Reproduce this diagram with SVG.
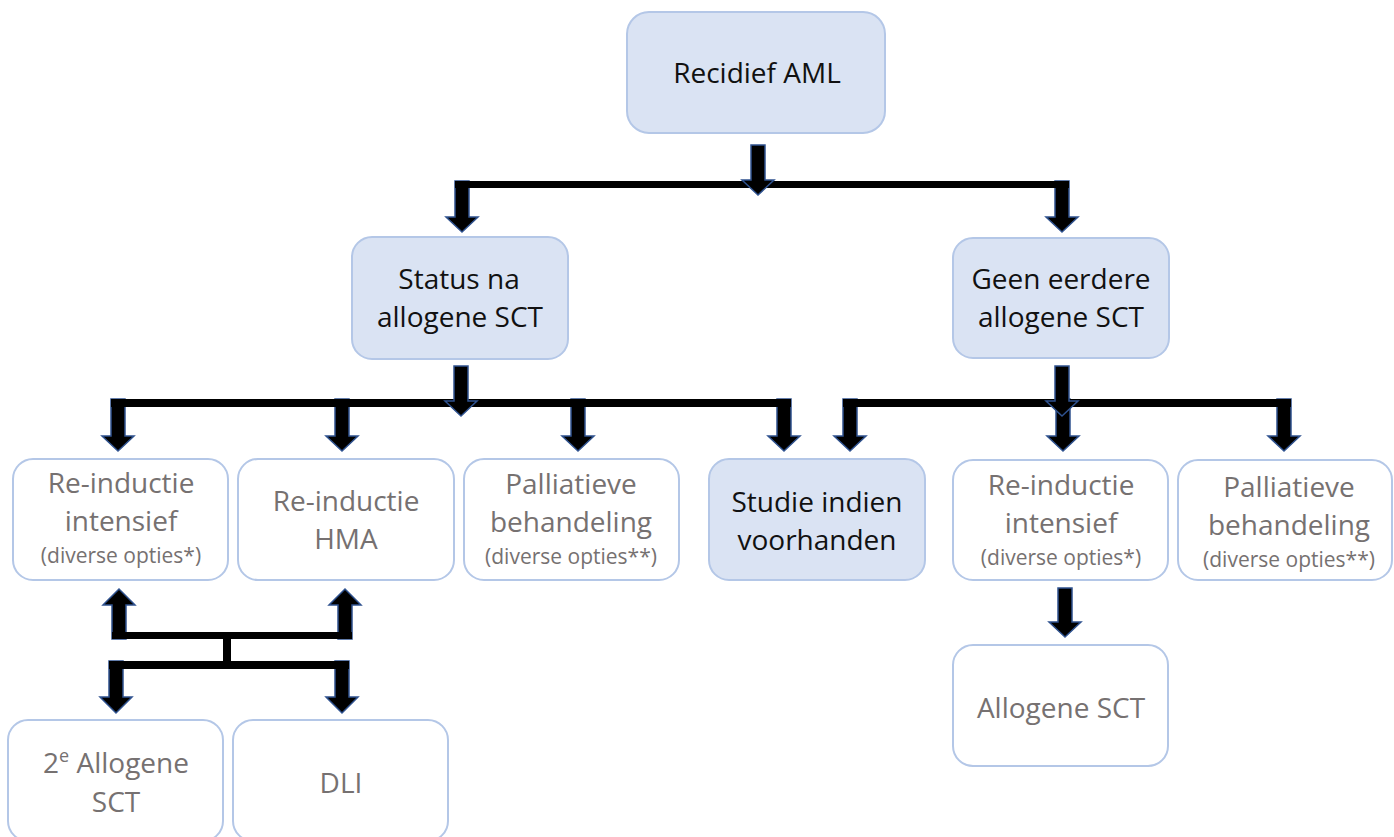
<svg xmlns="http://www.w3.org/2000/svg" width="1394" height="837" viewBox="0 0 1394 837">
  <style>
    .box-blue { fill: #dae3f3; stroke: #b4c7e7; stroke-width: 2; }
    .box-white { fill: #ffffff; stroke: #b4c7e7; stroke-width: 2; }
    .t-dark { font-family: "Open Sans", "Noto Sans", sans-serif; font-size: 28px; fill: #111111; text-anchor: middle; }
    .t-gray { font-family: "Open Sans", "Noto Sans", sans-serif; font-size: 28px; fill: #767171; text-anchor: middle; }
    .t-small { font-family: "Open Sans", "Noto Sans", sans-serif; font-size: 21px; fill: #767171; text-anchor: middle; }
    .arrow { fill: #000000; stroke: #2f528f; stroke-width: 1.5; stroke-linejoin: miter; }
    .bar { fill: #000000; }
  </style>

  <g id="connectors">
    <!-- branch arrows (drawn under the bars) -->
    <path class="arrow" d="M455,181 H469 V217 H478 L462,232 L446,217 H455 Z"/>
    <path class="arrow" d="M1055,181 H1069 V217 H1078 L1062,232 L1046,217 H1055 Z"/>

    <path class="arrow" d="M111,399 H125 V436 H134 L118,451 L102,436 H111 Z"/>
    <path class="arrow" d="M335,399 H349 V436 H358 L342,451 L326,436 H335 Z"/>
    <path class="arrow" d="M571,399 H585 V436 H594 L578,451 L562,436 H571 Z"/>
    <path class="arrow" d="M777,399 H791 V436 H800 L784,451 L768,436 H777 Z"/>

    <path class="arrow" d="M843,399 H857 V436 H866 L850,451 L834,436 H843 Z"/>
    <path class="arrow" d="M1056,399 H1070 V436 H1079 L1063,451 L1047,436 H1056 Z"/>
    <path class="arrow" d="M1277,399 H1291 V436 H1300 L1284,451 L1268,436 H1277 Z"/>

    <!-- horizontal bars -->
    <rect class="bar" x="455" y="181" width="614" height="7"/>
    <rect class="bar" x="111" y="399" width="680" height="8"/>
    <rect class="bar" x="843" y="399" width="448" height="8"/>

    <!-- source arrows (drawn over the bars) -->
    <path class="arrow" d="M751,145 H765 V180 H774 L758,195 L742,180 H751 Z"/>
    <path class="arrow" d="M454,366 H468 V401 H477 L461,416 L445,401 H454 Z"/>
    <path class="arrow" d="M1055,366 H1069 V401 H1078 L1062,416 L1046,401 H1055 Z"/>

    <!-- re-inductie to allogene SCT -->
    <path class="arrow" d="M1058,588 H1072 V622 H1081 L1065,637 L1049,622 H1058 Z"/>

    <!-- re-inductie / HMA to 2e allogene SCT / DLI -->
    <path class="arrow" d="M112,639 V605 H103 L119,589 L135,605 H126 V639 Z"/>
    <path class="arrow" d="M338,639 V605 H329 L345,589 L361,605 H352 V639 Z"/>
    <path class="arrow" d="M109,661 H123 V697 H132 L116,713 L100,697 H109 Z"/>
    <path class="arrow" d="M335,661 H349 V697 H358 L342,713 L326,697 H335 Z"/>
    <rect class="bar" x="112" y="632" width="240" height="7"/>
    <rect class="bar" x="223" y="638" width="8" height="24"/>
    <rect class="bar" x="109" y="661" width="240" height="8"/>
  </g>

  <g id="n-recidief">
    <rect class="box-blue" x="627" y="12" width="258" height="121" rx="22"/>
    <text class="t-dark" x="757" y="83">Recidief AML</text>
  </g>

  <g id="n-status">
    <rect class="box-blue" x="352" y="237" width="216" height="122" rx="20"/>
    <text class="t-dark" x="459" y="289">Status na</text>
    <text class="t-dark" x="460" y="327">allogene SCT</text>
  </g>

  <g id="n-geen">
    <rect class="box-blue" x="953" y="238" width="216" height="120" rx="20"/>
    <text class="t-dark" x="1061" y="289">Geen eerdere</text>
    <text class="t-dark" x="1061" y="327">allogene SCT</text>
  </g>

  <g id="n-reinductie-1">
    <rect class="box-white" x="13" y="459" width="215" height="121" rx="20"/>
    <text class="t-gray" x="121" y="493">Re-inductie</text>
    <text class="t-gray" x="121" y="531">intensief</text>
    <text class="t-small" x="121" y="563">(diverse opties*)</text>
  </g>

  <g id="n-hma">
    <rect class="box-white" x="238" y="459" width="216" height="121" rx="20"/>
    <text class="t-gray" x="346" y="511">Re-inductie</text>
    <text class="t-gray" x="346" y="549">HMA</text>
  </g>

  <g id="n-palliatief-1">
    <rect class="box-white" x="464" y="459" width="215" height="121" rx="20"/>
    <text class="t-gray" x="571" y="494">Palliatieve</text>
    <text class="t-gray" x="571" y="532">behandeling</text>
    <text class="t-small" x="571" y="564">(diverse opties**)</text>
  </g>

  <g id="n-studie">
    <rect class="box-blue" x="709" y="459" width="216" height="121" rx="20"/>
    <text class="t-dark" x="817" y="512">Studie indien</text>
    <text class="t-dark" x="817" y="550">voorhanden</text>
  </g>

  <g id="n-reinductie-2">
    <rect class="box-white" x="953" y="460" width="215" height="120" rx="20"/>
    <text class="t-gray" x="1061" y="495">Re-inductie</text>
    <text class="t-gray" x="1061" y="533">intensief</text>
    <text class="t-small" x="1061" y="565">(diverse opties*)</text>
  </g>

  <g id="n-palliatief-2">
    <rect class="box-white" x="1178" y="460" width="214" height="120" rx="20"/>
    <text class="t-gray" x="1289" y="497">Palliatieve</text>
    <text class="t-gray" x="1289" y="535">behandeling</text>
    <text class="t-small" x="1289" y="567">(diverse opties**)</text>
  </g>

  <g id="n-allogene">
    <rect class="box-white" x="953" y="645" width="215" height="121" rx="20"/>
    <text class="t-gray" x="1061" y="718">Allogene SCT</text>
  </g>

  <g id="n-allogene-2e">
    <rect class="box-white" x="8" y="720" width="215" height="121" rx="20"/>
    <text class="t-gray" x="116" y="773">2<tspan font-size="18" dy="-11">e</tspan><tspan dy="11"> Allogene</tspan></text>
    <text class="t-gray" x="116" y="812">SCT</text>
  </g>

  <g id="n-dli">
    <rect class="box-white" x="233" y="720" width="215" height="121" rx="20"/>
    <text class="t-gray" x="341" y="793">DLI</text>
  </g>
</svg>
